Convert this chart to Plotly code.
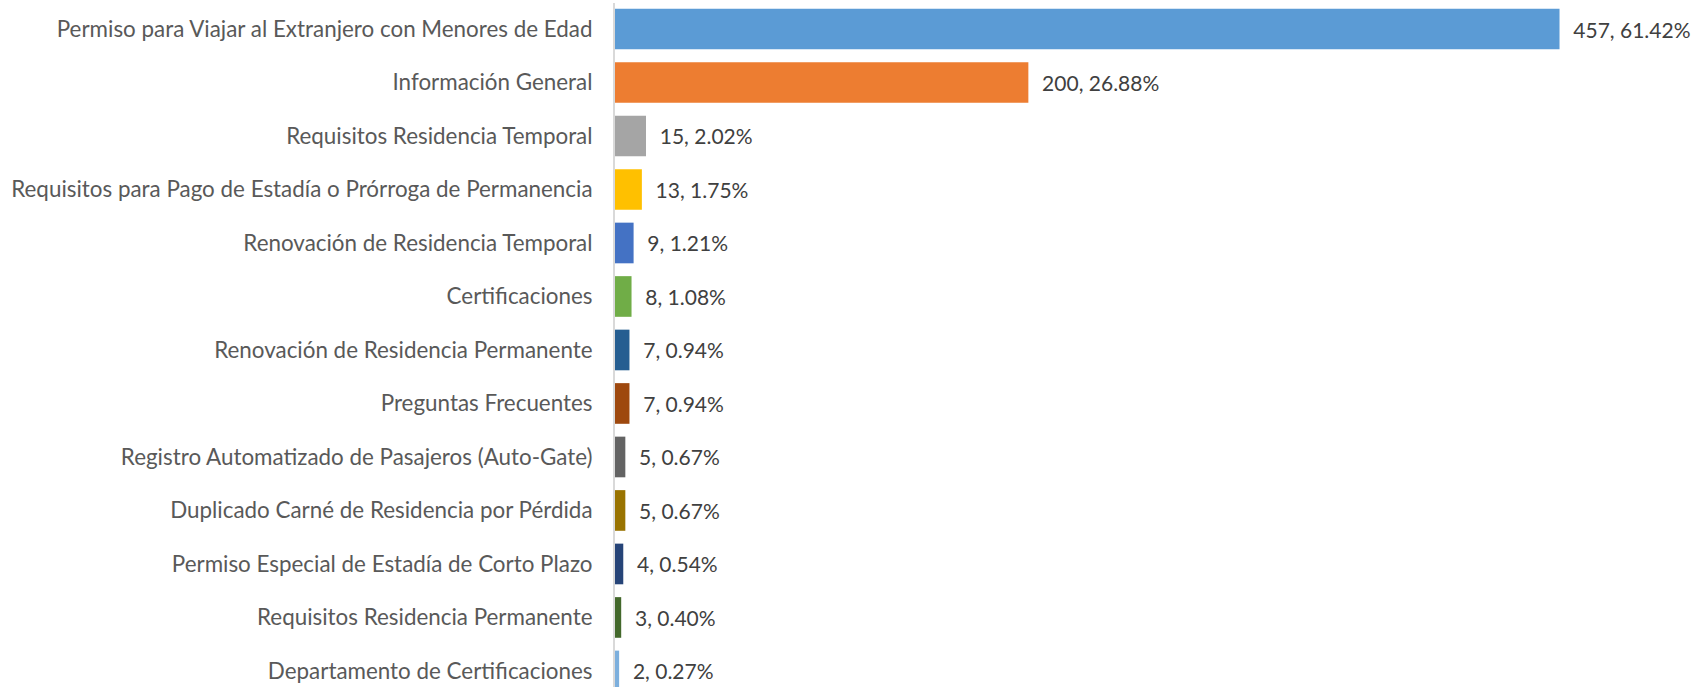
import plotly.graph_objects as go

categories = [
    "Permiso para Viajar al Extranjero con Menores de Edad",
    "Información General",
    "Requisitos Residencia Temporal",
    "Requisitos para Pago de Estadía o Prórroga de Permanencia",
    "Renovación de Residencia Temporal",
    "Certificaciones",
    "Renovación de Residencia Permanente",
    "Preguntas Frecuentes",
    "Registro Automatizado de Pasajeros (Auto-Gate)",
    "Duplicado Carné de Residencia por Pérdida",
    "Permiso Especial de Estadía de Corto Plazo",
    "Requisitos Residencia Permanente",
    "Departamento de Certificaciones",
]
values = [457, 200, 15, 13, 9, 8, 7, 7, 5, 5, 4, 3, 2]
percents = ["61.42%", "26.88%", "2.02%", "1.75%", "1.21%", "1.08%", "0.94%",
            "0.94%", "0.67%", "0.67%", "0.54%", "0.40%", "0.27%"]
colors = ["#5B9BD5", "#ED7D31", "#A5A5A5", "#FFC000", "#4472C4", "#70AD47",
          "#255E91", "#9E480E", "#636363", "#997300", "#264478", "#43682B",
          "#7CAFDD"]

fig = go.Figure(go.Bar(
    x=values,
    y=categories,
    orientation="h",
    marker=dict(color=colors, line=dict(width=0)),
    customdata=percents,
    texttemplate="\u00a0\u00a0%{x}, %{customdata}",
    textposition="outside",
    constraintext="none",
    textfont=dict(family="Lato", size=21, color="#404040"),
    cliponaxis=False,
    hoverinfo="skip",
))

fig.update_layout(
    width=1698, height=687,
    margin=dict(l=615, r=0, t=3, b=0, autoexpand=False),
    paper_bgcolor="white", plot_bgcolor="white",
    bargap=0.24,
    showlegend=False,
    font=dict(family="Lato", size=21, color="#595959"),
)
fig.update_xaxes(range=[0, 524], visible=False, showgrid=False,
                 zeroline=False, automargin=False)
fig.update_yaxes(
    type="category",
    categoryorder="array", categoryarray=categories,
    range=[12.3, -0.486],
    automargin=False,
    showline=True, linecolor="#D9D9D9", linewidth=2,
    showgrid=False, zeroline=False, ticks="",
    ticklabelstandoff=16,
    tickfont=dict(family="Lato", size=22.4, color="#595959"),
)

fig.write_html(
    "out.html",
    config={"displayModeBar": False},
    post_script="document.body.style.margin='0';document.body.style.overflow='hidden';",
)
